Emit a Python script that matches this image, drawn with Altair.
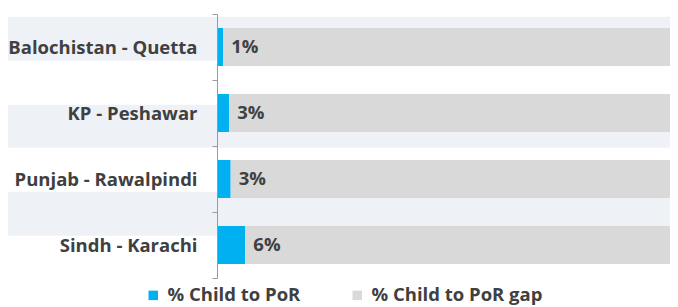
import altair as alt
import pandas as pd

regions = ["Balochistan - Quetta", "KP - Peshawar", "Punjab - Rawalpindi", "Sindh - Karachi"]
child_pct = [1.3, 2.6, 2.9, 6.0]
child_labels = ["1%", "3%", "3%", "6%"]
series = ["% Child to PoR", "% Child to PoR gap"]
colors = ["#00B0F0", "#D9D9D9"]
# decorative background stripes (in units of the stripe period)
stripe_start = [0.03, 1.03, 2.02]
stripe_end = [0.53, 1.52, 2.52]

rows = []
for r, v in zip(regions, child_pct):
    rows.append({"region": r, "series": series[0], "value": v, "ord": 0})
    rows.append({"region": r, "series": series[1], "value": 100 - v, "ord": 1})
bars_df = pd.DataFrame(rows)
lab_df = pd.DataFrame({"region": regions, "value": child_pct, "label": child_labels})
stripe_df = pd.DataFrame({"s": stripe_start, "e": stripe_end})

FONT = "Open Sans"
TXT = "#404040"

yenc = alt.Y(
    "region:N",
    sort=regions,
    scale=alt.Scale(paddingInner=0, paddingOuter=0),
    axis=alt.Axis(
        title=None,
        tickBand="extent",
        tickSize=5,
        tickColor="#9A9A9A",
        domainColor="#9A9A9A",
        labelFont=FONT,
        labelFontSize=18.5,
        labelFontWeight="bold",
        labelColor=TXT,
        labelPadding=15,
        labelLimit=300,
        zindex=2,
    ),
)
xscale = alt.Scale(domain=[0, 96], nice=False, zero=True)

stripes = alt.Chart(stripe_df).mark_rect(color="#EEF2F7").encode(
    x=alt.value(-209),
    x2=alt.value("width"),
    y=alt.Y("s:Q", scale=alt.Scale(domain=[0, 3], reverse=True, nice=False), axis=None),
    y2="e:Q",
)

bars = alt.Chart(bars_df).mark_bar(size=38, clip=True).encode(
    x=alt.X("value:Q", stack="zero", scale=xscale, axis=None),
    y=yenc,
    order=alt.Order("ord:Q"),
    color=alt.Color(
        "series:N",
        scale=alt.Scale(domain=series, range=colors),
        legend=alt.Legend(
            title=None,
            orient="none",
            direction="horizontal",
            legendX=-73,
            legendY=272,
            symbolType="square",
            symbolSize=90,
            symbolStrokeWidth=0,
            labelFont=FONT,
            labelFontSize=18.5,
            labelFontWeight="bold",
            labelColor=TXT,
            labelOffset=5,
            labelLimit=300,
            columnPadding=47,
        ),
    ),
)

text = alt.Chart(lab_df).mark_text(
    align="left", baseline="middle", dx=8, font=FONT, fontSize=18.5, fontWeight="bold", color=TXT
).encode(
    x=alt.X("value:Q", scale=xscale, axis=None),
    y=yenc,
    text="label:N",
)

chart = (
    alt.layer(stripes, bars, text)
    .resolve_scale(y="independent")
    .properties(
        width=453,
        height=264,
        autosize=alt.AutoSizeParams(type="none"),
        padding={"left": 209, "top": 6, "right": 0, "bottom": 29},
    )
    .configure_view(stroke=None)
)

chart.save("out.html", embed_options={"renderer": "svg", "actions": False})
